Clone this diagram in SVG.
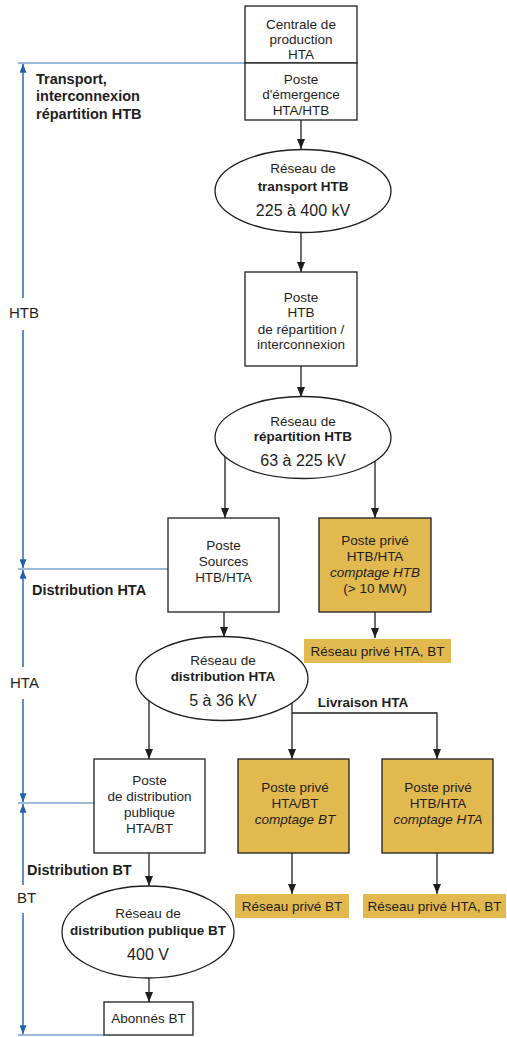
<svg xmlns="http://www.w3.org/2000/svg" width="507" height="1037" viewBox="0 0 507 1037">
  <defs>
    <style>
      text { font-family: "Liberation Sans", Arial, sans-serif; fill: #1e1e1e; }
      .t { font-size: 13.5px; text-anchor: middle; }
      .b { font-weight: bold; }
      .i { font-style: italic; }
      .v { font-size: 16px; text-anchor: middle; }
      .side { font-size: 14.5px; font-weight: bold; }
      .lvl { font-size: 15px; }
      .box { fill: #ffffff; stroke: #1e1e1e; stroke-width: 1.3; }
      .priv { fill: #E2B94F; stroke: #1e1e1e; stroke-width: 1.3; }
      .tag { fill: #E2B94F; }
      .ell { fill: #ffffff; stroke: #1e1e1e; stroke-width: 1.3; }
      .edge { fill: none; stroke: #1e1e1e; stroke-width: 1.3; }
      .axis { fill: none; stroke: #1f5fae; stroke-width: 1.4; }
      .axis-h { fill: none; stroke: #3a74b9; stroke-width: 1.2; }
    </style>
    <marker id="ah" viewBox="0 0 10 8" refX="10" refY="4" markerWidth="10" markerHeight="8" markerUnits="userSpaceOnUse" orient="auto">
      <path d="M0,0 L10,4 L0,8 z" fill="#1e1e1e"/>
    </marker>
    <marker id="bh" viewBox="0 0 10 8" refX="10" refY="4" markerWidth="10" markerHeight="7" markerUnits="userSpaceOnUse" orient="auto">
      <path d="M0,0 L10,4 L0,8 z" fill="#1f5fae"/>
    </marker>
  </defs>

  <!-- voltage level axis on the left -->
  <g id="axis">
    <line class="axis-h" x1="18" y1="63" x2="245" y2="63"/>
    <line class="axis-h" x1="18" y1="569" x2="168" y2="569"/>
    <line class="axis-h" x1="18" y1="803" x2="94" y2="803"/>
    <line class="axis-h" x1="18" y1="1035" x2="104" y2="1035"/>

    <line class="axis" x1="23" y1="298" x2="23" y2="64" marker-end="url(#bh)"/>
    <line class="axis" x1="23" y1="330" x2="23" y2="568" marker-end="url(#bh)"/>
    <line class="axis" x1="23" y1="667" x2="23" y2="570" marker-end="url(#bh)"/>
    <line class="axis" x1="23" y1="699" x2="23" y2="802" marker-end="url(#bh)"/>
    <line class="axis" x1="23" y1="885" x2="23" y2="804" marker-end="url(#bh)"/>
    <line class="axis" x1="23" y1="913" x2="23" y2="1034" marker-end="url(#bh)"/>

    <text class="lvl" x="9" y="318">HTB</text>
    <text class="lvl" x="10" y="688">HTA</text>
    <text class="lvl" x="17" y="903">BT</text>

    <text class="side" x="36" y="84">Transport,</text>
    <text class="side" x="36" y="101">interconnexion</text>
    <text class="side" x="36" y="119">répartition HTB</text>
    <text class="side" x="32" y="595">Distribution HTA</text>
    <text class="side" x="27" y="875">Distribution BT</text>
  </g>

  <!-- connectors -->
  <g id="connectors">
    <line class="edge" x1="301" y1="120" x2="301" y2="149" marker-end="url(#ah)"/>
    <line class="edge" x1="301" y1="233" x2="301" y2="272" marker-end="url(#ah)"/>
    <line class="edge" x1="301" y1="366" x2="301" y2="397" marker-end="url(#ah)"/>
    <line class="edge" x1="225" y1="440" x2="225" y2="518" marker-end="url(#ah)"/>
    <line class="edge" x1="375" y1="440" x2="375" y2="518" marker-end="url(#ah)"/>
    <line class="edge" x1="224" y1="612" x2="224" y2="637" marker-end="url(#ah)"/>
    <line class="edge" x1="375" y1="612" x2="375" y2="638" marker-end="url(#ah)"/>
    <line class="edge" x1="149" y1="680" x2="149" y2="759" marker-end="url(#ah)"/>
    <line class="edge" x1="292" y1="680" x2="292" y2="759" marker-end="url(#ah)"/>
    <polyline class="edge" points="292,713 437,713 437,759" marker-end="url(#ah)"/>
    <line class="edge" x1="149" y1="853" x2="149" y2="886" marker-end="url(#ah)"/>
    <line class="edge" x1="292" y1="853" x2="292" y2="894" marker-end="url(#ah)"/>
    <line class="edge" x1="437" y1="853" x2="437" y2="894" marker-end="url(#ah)"/>
    <line class="edge" x1="149" y1="978" x2="149" y2="1002" marker-end="url(#ah)"/>
    <text class="t b" x="363" y="707">Livraison HTA</text>
  </g>

  <!-- nodes -->
  <g id="centrale">
    <rect class="box" x="245" y="6" width="112" height="57"/>
    <text class="t" x="301" y="29">Centrale de</text>
    <text class="t" x="301" y="44">production</text>
    <text class="t" x="301" y="59">HTA</text>
  </g>
  <g id="poste-emergence">
    <rect class="box" x="245" y="63" width="112" height="57"/>
    <text class="t" x="301" y="84">Poste</text>
    <text class="t" x="301" y="99">d'émergence</text>
    <text class="t" x="301" y="115">HTA/HTB</text>
  </g>
  <g id="reseau-transport">
    <ellipse class="ell" cx="303" cy="191" rx="88" ry="41.5"/>
    <text class="t" x="303" y="173">Réseau de</text>
    <text class="t b" x="303" y="191">transport HTB</text>
    <text class="v" x="303" y="216">225 à 400 kV</text>
  </g>
  <g id="poste-repartition">
    <rect class="box" x="245" y="272" width="112" height="94"/>
    <text class="t" x="301" y="302">Poste</text>
    <text class="t" x="301" y="317">HTB</text>
    <text class="t" x="301" y="334">de répartition /</text>
    <text class="t" x="301" y="349">interconnexion</text>
  </g>
  <g id="reseau-repartition">
    <ellipse class="ell" cx="303" cy="437.5" rx="88" ry="41"/>
    <text class="t" x="303" y="426">Réseau de</text>
    <text class="t b" x="303" y="441">répartition HTB</text>
    <text class="v" x="303" y="466">63 à 225 kV</text>
  </g>
  <g id="poste-sources">
    <rect class="box" x="168" y="518" width="111" height="94"/>
    <text class="t" x="223.5" y="550">Poste</text>
    <text class="t" x="223.5" y="566">Sources</text>
    <text class="t" x="223.5" y="582">HTB/HTA</text>
  </g>
  <g id="poste-prive-htb">
    <rect class="priv" x="319" y="518" width="112" height="94"/>
    <text class="t" x="375" y="545">Poste privé</text>
    <text class="t" x="375" y="561">HTB/HTA</text>
    <text class="t i" x="375" y="577">comptage HTB</text>
    <text class="t" x="375" y="593">(&gt; 10 MW)</text>
  </g>
  <g id="reseau-prive-hta-bt-1">
    <rect class="tag" x="304" y="639" width="147" height="24"/>
    <text class="t" x="377.5" y="656">Réseau privé HTA, BT</text>
  </g>
  <g id="reseau-distribution-hta">
    <ellipse class="ell" cx="222" cy="678.5" rx="86" ry="42"/>
    <text class="t" x="223" y="665">Réseau de</text>
    <text class="t b" x="223" y="681">distribution HTA</text>
    <text class="v" x="223" y="706">5 à 36 kV</text>
  </g>
  <g id="poste-distribution-publique">
    <rect class="box" x="94" y="759" width="111" height="94"/>
    <text class="t" x="149.5" y="785">Poste</text>
    <text class="t" x="149.5" y="801">de distribution</text>
    <text class="t" x="149.5" y="817">publique</text>
    <text class="t" x="149.5" y="833">HTA/BT</text>
  </g>
  <g id="poste-prive-hta-bt">
    <rect class="priv" x="238" y="759" width="111" height="94"/>
    <text class="t" x="295" y="792">Poste privé</text>
    <text class="t" x="295" y="808">HTA/BT</text>
    <text class="t i" x="295" y="824">comptage BT</text>
  </g>
  <g id="poste-prive-htb-hta">
    <rect class="priv" x="382" y="759" width="111" height="94"/>
    <text class="t" x="438" y="792">Poste privé</text>
    <text class="t" x="438" y="808">HTB/HTA</text>
    <text class="t i" x="438" y="824">comptage HTA</text>
  </g>
  <g id="reseau-prive-bt">
    <rect class="tag" x="235" y="894" width="114" height="24"/>
    <text class="t" x="292" y="911">Réseau privé BT</text>
  </g>
  <g id="reseau-prive-hta-bt-2">
    <rect class="tag" x="363" y="894" width="143" height="24"/>
    <text class="t" x="434.5" y="911">Réseau privé HTA, BT</text>
  </g>
  <g id="reseau-distribution-bt">
    <ellipse class="ell" cx="148" cy="932" rx="86" ry="46"/>
    <text class="t" x="148" y="918">Réseau de</text>
    <text class="t b" x="148" y="935">distribution publique BT</text>
    <text class="v" x="148" y="960">400 V</text>
  </g>
  <g id="abonnes-bt">
    <rect class="box" x="104" y="1002" width="89" height="33"/>
    <text class="t" x="148.5" y="1023">Abonnés BT</text>
  </g>
</svg>
